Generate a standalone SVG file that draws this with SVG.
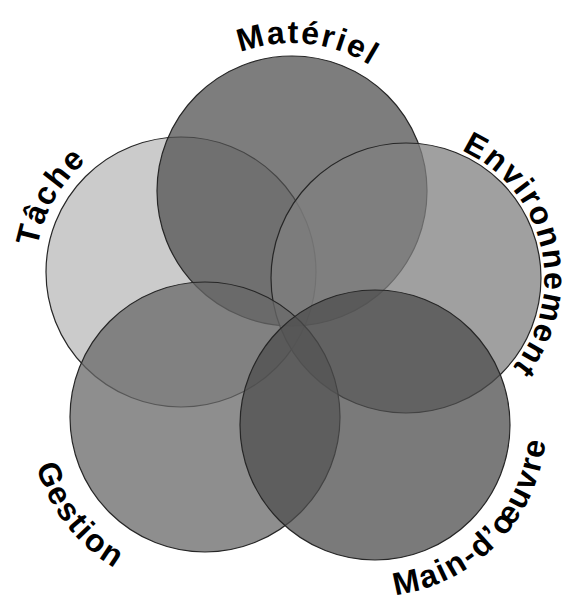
<svg xmlns="http://www.w3.org/2000/svg" width="573" height="605" viewBox="0 0 573 605">
  <style>
    .c { stroke: #262626; stroke-width: 1.2; fill-opacity: 0.75; }
    .lbl { font-family: "Liberation Sans", Arial, sans-serif; font-weight: bold; font-size: 32px; letter-spacing: 2px; fill: #000000; }
  </style>
  <defs>
    <path id="pMat" d="M144.8,175.5 A148,148 0 0 1 439.2,206.5"/>
    <path id="pEnv" d="M374.5,141.6 A140,140 0 0 1 437.5,414.4"/>
    <path id="pTac" d="M107.5,399.3 A147,147 0 0 1 254.5,144.7"/>
    <path id="pGes" d="M96.6,278.3 A176,176 0 0 0 313.4,555.7"/>
    <path id="pMain" d="M254.8,549.4 A173,173 0 0 0 495.2,300.6"/>
  </defs>
  <rect width="573" height="605" fill="#ffffff"/>
  <g id="tache">
    <circle class="c" cx="181" cy="272" r="135" fill="#bababa"/>
    <text class="lbl"><textPath href="#pTac" startOffset="50%" text-anchor="middle">Tâche</textPath></text>
  </g>
  <g id="materiel">
    <circle class="c" cx="292" cy="191" r="135" fill="#525252"/>
    <text class="lbl"><textPath href="#pMat" startOffset="50%" text-anchor="middle">Matériel</textPath></text>
  </g>
  <g id="environnement">
    <circle class="c" cx="406" cy="278" r="135" fill="#808080"/>
    <text class="lbl"><textPath href="#pEnv" startOffset="50%" text-anchor="middle">Environnement</textPath></text>
  </g>
  <g id="gestion">
    <circle class="c" cx="205" cy="417" r="135" fill="#686868"/>
    <text class="lbl"><textPath href="#pGes" startOffset="50%" text-anchor="middle">Gestion</textPath></text>
  </g>
  <g id="main-doeuvre">
    <circle class="c" cx="375" cy="425" r="135" fill="#4e4e4e"/>
    <text class="lbl"><textPath href="#pMain" startOffset="50%" text-anchor="middle">Main-d’œuvre</textPath></text>
  </g>
  <g id="connectors"/>
</svg>
